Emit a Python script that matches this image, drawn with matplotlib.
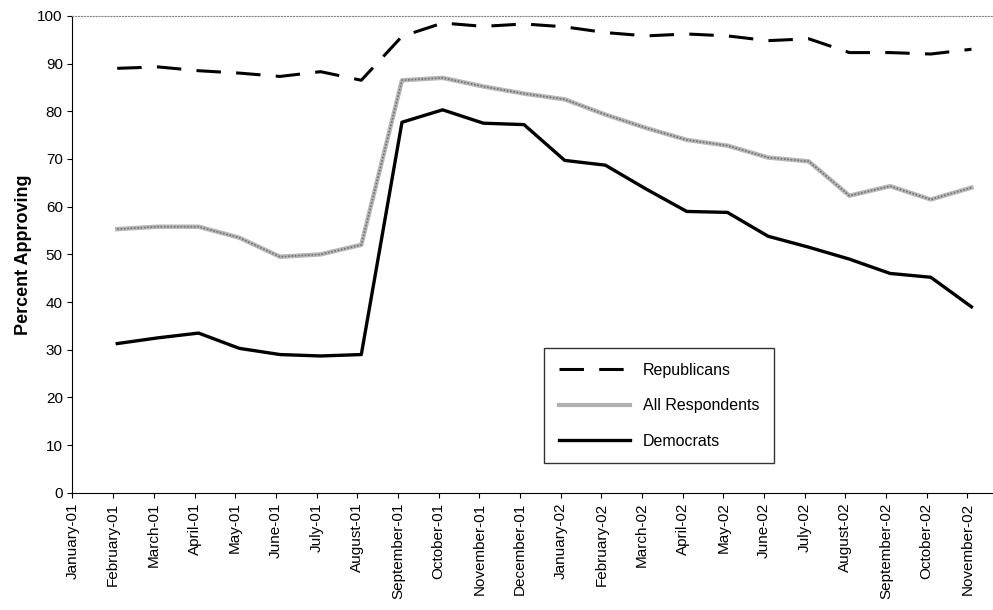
import matplotlib
matplotlib.use("Agg")
import matplotlib.pyplot as plt
from matplotlib.lines import Line2D

months = ["January-01", "February-01", "March-01", "April-01", "May-01", "June-01",
          "July-01", "August-01", "September-01", "October-01", "November-01",
          "December-01", "January-02", "February-02", "March-02", "April-02",
          "May-02", "June-02", "July-02", "August-02", "September-02",
          "October-02", "November-02"]

republicans = [89.0, 89.3, 88.5, 88.0, 87.3, 88.3, 86.5, 95.7, 98.5, 97.8, 98.3,
               97.7, 96.5, 95.8, 96.2, 95.8, 94.8, 95.2, 92.3, 92.3, 92.0, 93.0]
all_resp = [55.3, 55.8, 55.8, 53.5, 49.5, 50.0, 52.0, 86.5, 87.0, 85.2, 83.7,
            82.5, 79.3, 76.5, 74.0, 72.8, 70.3, 69.5, 62.3, 64.3, 61.5, 64.0]
democrats = [31.3, 32.5, 33.5, 30.3, 29.0, 28.7, 29.0, 77.7, 80.3, 77.5, 77.2,
             69.7, 68.7, 63.7, 59.0, 58.8, 53.8, 51.5, 49.0, 46.0, 45.2, 39.0]

x = [i + 1.1 for i in range(len(republicans))]

plt.rcParams['font.family'] = ['Liberation Sans', 'DejaVu Sans']
fig = plt.figure(figsize=(9.93, 6.1), dpi=100)
ax = fig.add_axes([0.073, 0.192, 0.934, 0.782])

ax.plot(x, republicans, color="black", lw=2.2, dashes=(8, 5))
ax.plot(x, all_resp, color="#b8b8b8", lw=3.2)
ax.plot(x, all_resp, color="#707070", lw=1.2, dashes=(1, 1))
ax.plot(x, democrats, color="black", lw=2.4)

ax.set_xlim(0, len(months) - 0.2)
ax.set_ylim(0, 100)
ax.set_yticks(range(0, 101, 10))
ax.set_xticks(range(len(months)))
ax.set_xticklabels(months, rotation=90, fontsize=11)
ax.tick_params(axis="y", labelsize=11)
ax.set_ylabel("Percent Approving", fontsize=13, fontweight="bold")

ax.spines["right"].set_visible(False)
ax.spines["top"].set_linestyle(":")
ax.spines["top"].set_color("#888888")

handles = [Line2D([], [], color="black", lw=2.2, dashes=(8, 5)),
           Line2D([], [], color="#b0b0b0", lw=3),
           Line2D([], [], color="black", lw=2.4)]
leg = ax.legend(handles, ["Republicans", "All Respondents", "Democrats"],
                loc="lower left", bbox_to_anchor=(0.50, 0.045), fancybox=False,
                edgecolor="black", handlelength=4.5, labelspacing=1.3,
                borderpad=0.9, prop={"size": 11.5})
leg.get_frame().set_linewidth(1.0)

fig.savefig("out.png", dpi=100)
